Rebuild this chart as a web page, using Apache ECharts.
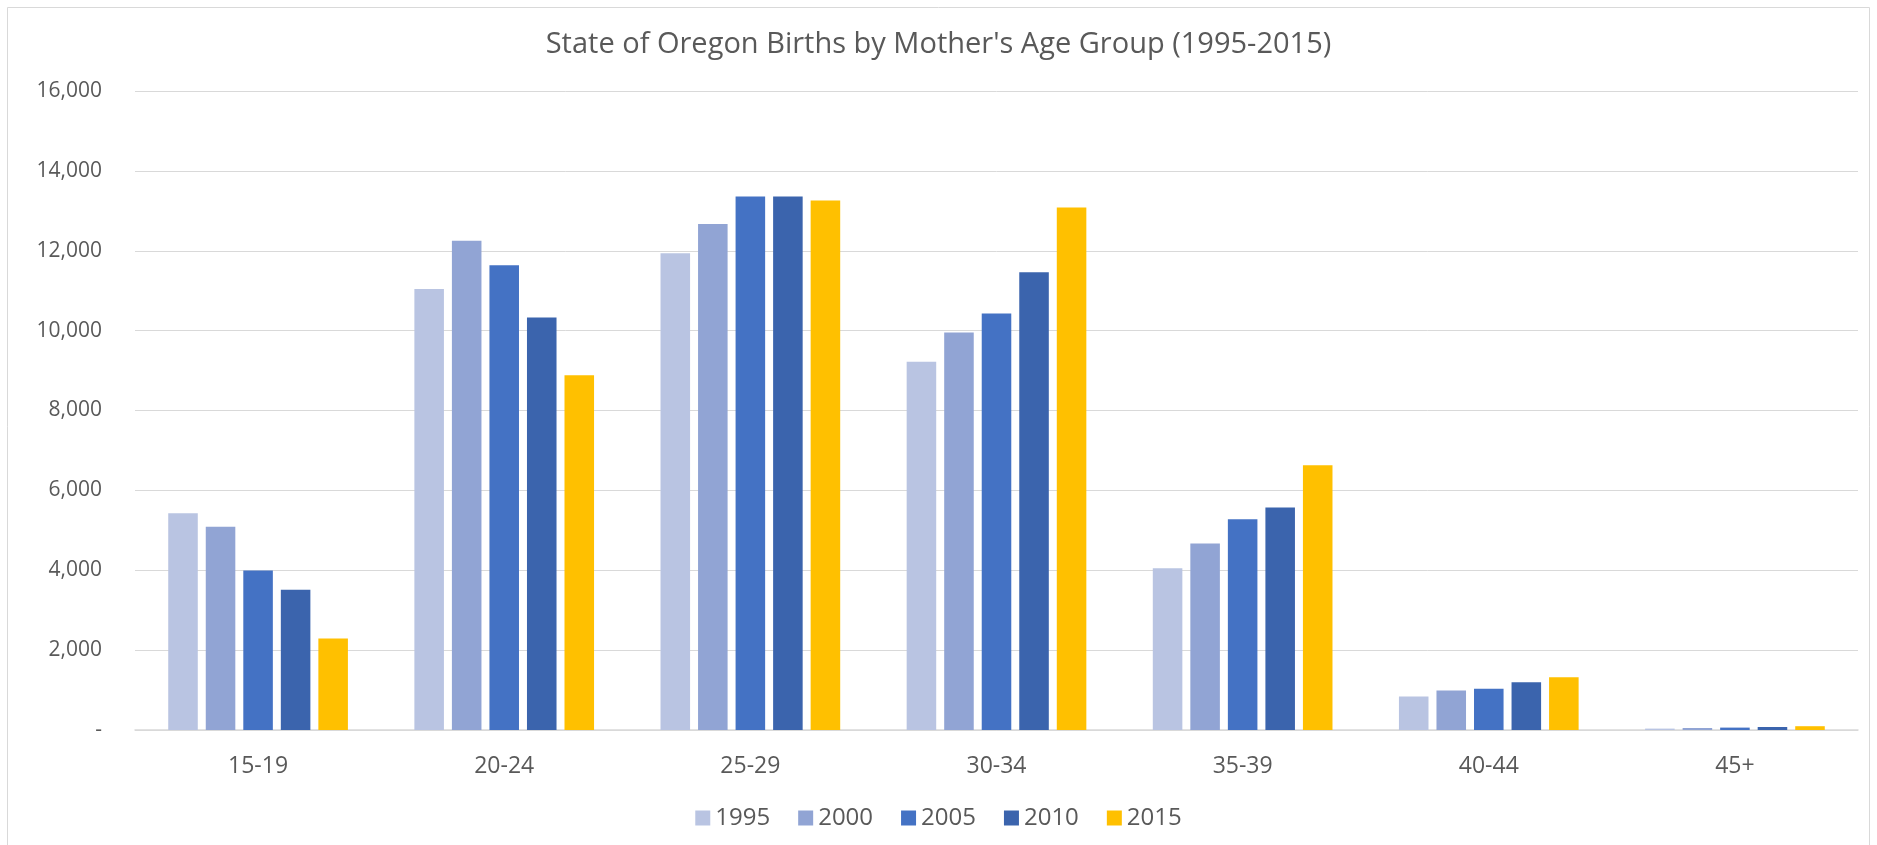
<!DOCTYPE html>
<html>
<head>
<meta charset="utf-8">
<title>State of Oregon Births by Mother's Age Group</title>
<script src="https://cdn.jsdelivr.net/npm/echarts@6/dist/echarts.min.js"></script>
<style>
  html, body { margin: 0; padding: 0; background: #fff; }
  #main { width: 1877px; height: 845px; }
</style>
</head>
<body>
<div id="main"></div>
<script>
// age groups on the x axis
var ageGroups = ["15-19", "20-24", "25-29", "30-34", "35-39", "40-44", "45+"];
var years = ["1995", "2000", "2005", "2010", "2015"];

// births per age group
var births1995 = [5430, 11040, 11940, 9220, 4050, 840, 35];
var births2000 = [5090, 12250, 12670, 9950, 4670, 990, 50];
var births2005 = [3995, 11640, 13360, 10430, 5280, 1030, 60];
var births2010 = [3510, 10330, 13360, 11460, 5570, 1195, 75];
var births2015 = [2290, 8880, 13260, 13085, 6630, 1320, 95];

var yTicks = [0, 2000, 4000, 6000, 8000, 10000, 12000, 14000, 16000];

var seriesData = [births1995, births2000, births2005, births2010, births2015];
var colors = ["#B9C4E2", "#91A4D4", "#4472C4", "#3B64AD", "#FFC000"];

var textGray = "#595959";
var fontName = "'Open Sans', 'Noto Sans', sans-serif";

var series = [];
for (var i = 0; i < years.length; i++) {
  series.push({
    name: years[i],
    type: "bar",
    data: seriesData[i],
    barGap: "27%",
    barCategoryGap: "27%",
    itemStyle: { color: colors[i] },
    emphasis: { disabled: true }
  });
}

var chartDom = document.getElementById("main");
var myChart = echarts.init(chartDom, null, { renderer: "canvas" });

var option = {
  backgroundColor: "#fff",
  animation: false,
  color: colors,
  title: {
    text: "State of Oregon Births by Mother's Age Group (1995-2015)",
    left: "center",
    top: 25,
    textStyle: {
      color: textGray,
      fontFamily: fontName,
      fontWeight: "normal",
      fontSize: 29
    }
  },
  legend: {
    data: years,
    bottom: 10,
    left: "center",
    itemWidth: 15,
    itemHeight: 15,
    itemGap: 28,
    icon: "rect",
    textStyle: { color: textGray, fontFamily: fontName, fontSize: 24 }
  },
  graphic: [
    {
      type: "rect",
      shape: { x: 7.5, y: 7.5, width: 1862, height: 860 },
      style: { fill: null, stroke: "#d9d9d9", lineWidth: 1 },
      silent: true
    }
  ],
  grid: {
    left: 135,
    right: 19,
    top: 91,
    bottom: 115
  },
  xAxis: {
    type: "category",
    data: ageGroups,
    axisTick: { show: false },
    axisLine: { lineStyle: { color: "#d9d9d9", width: 1.5 } },
    axisLabel: {
      color: textGray,
      fontFamily: fontName,
      fontSize: 23,
      margin: 25
    }
  },
  yAxis: {
    type: "value",
    min: yTicks[0],
    max: yTicks[yTicks.length - 1],
    interval: 2000,
    axisLine: { show: false },
    axisTick: { show: false },
    splitLine: { lineStyle: { color: "#d9d9d9", width: 1 } },
    axisLabel: {
      color: textGray,
      fontFamily: fontName,
      fontSize: 21,
      margin: 33,
      formatter: function (v) {
        if (v === 0) return "-";
        return v.toString().replace(/\B(?=(\d{3})+(?!\d))/g, ",");
      }
    }
  },
  series: series
};

option && myChart.setOption(option);
</script>
</body>
</html>
